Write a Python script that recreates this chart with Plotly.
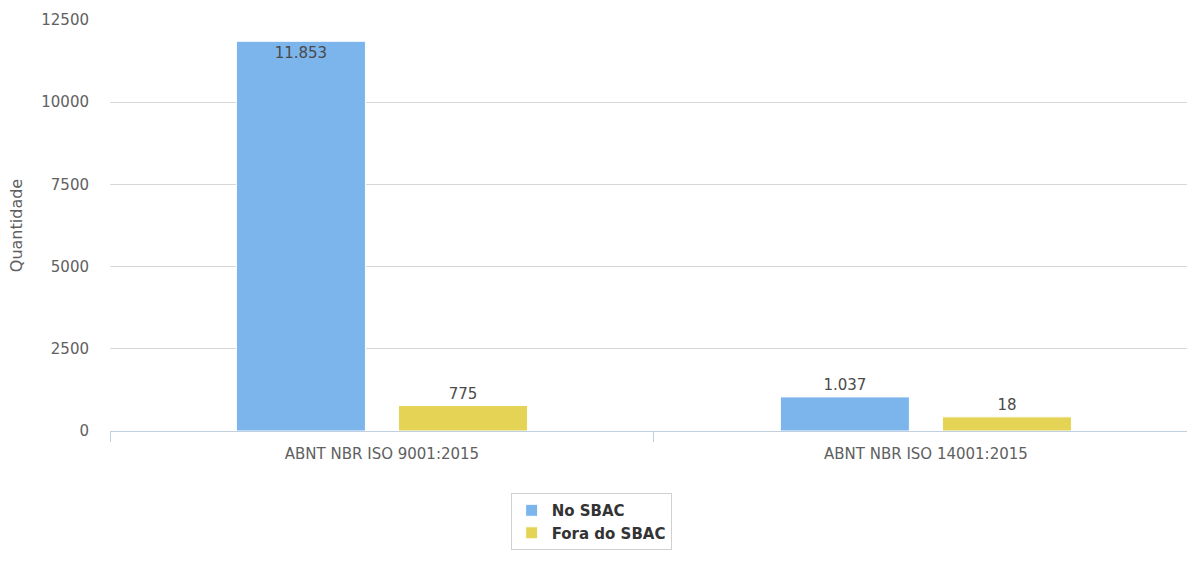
import plotly.graph_objects as go

categories = ["ABNT NBR ISO 9001:2015", "ABNT NBR ISO 14001:2015"]
series_names = ["No SBAC", "Fora do SBAC"]
no_sbac = [11853, 1037]
fora_sbac = [775, 18]
y_ticks = [0, 2500, 5000, 7500, 10000, 12500]

colors = ["#7CB5EC", "#E4D354"]
MIN_BAR = 430  # minimum visible bar length (like Highcharts minPointLength)
FONT = "DejaVu Sans"


def fmt(v):
    return f"{v:,}".replace(",", ".")


fig = go.Figure()
for name, vals, col in zip(series_names, [no_sbac, fora_sbac], colors):
    shown = [max(v, MIN_BAR) for v in vals]
    positions = ["inside" if v > 11000 else "outside" for v in vals]
    fig.add_trace(go.Bar(
        name=name,
        x=categories,
        y=shown,
        text=[fmt(v) for v in vals],
        textposition=positions,
        insidetextanchor="end",
        textfont=dict(family=FONT, size=15, color="#4a4a4a"),
        insidetextfont=dict(family=FONT, size=15, color="#4a4a4a"),
        outsidetextfont=dict(family=FONT, size=15, color="#4a4a4a"),
        marker=dict(color=col, line=dict(color="#FFFFFF", width=1)),
        cliponaxis=False,
        hoverinfo="skip",
    ))

fig.update_layout(
    width=1187,
    height=563,
    margin=dict(l=110, r=0, t=20, b=132),
    paper_bgcolor="#FFFFFF",
    plot_bgcolor="#FFFFFF",
    barmode="group",
    bargap=0.404,
    bargroupgap=0.204,
    font=dict(family=FONT, size=15, color="#606060"),
    xaxis=dict(
        range=[-0.5, 1.48],
        showgrid=False,
        showline=True,
        linecolor="#C0D0E0",
        linewidth=1,
        ticks="outside",
        ticklen=10,
        tickcolor="#C0D0E0",
        tickson="boundaries",
        ticklabelstandoff=9,
        tickfont=dict(family=FONT, size=15, color="#606060"),
    ),
    yaxis=dict(
        range=[0, 12500],
        tickvals=y_ticks,
        ticktext=[str(t) for t in y_ticks],
        showgrid=True,
        gridcolor="#D8D8D8",
        gridwidth=1,
        zeroline=False,
        showline=False,
        ticks="",
        ticklabelstandoff=20,
        tickfont=dict(family=FONT, size=15, color="#606060"),
        title=dict(text="Quantidade", standoff=14,
                   font=dict(family=FONT, size=16, color="#606060")),
    ),
    legend=dict(
        orientation="v",
        x=0.372,
        xanchor="left",
        y=-0.151,
        yanchor="top",
        bordercolor="#D0D0D0",
        borderwidth=1,
        bgcolor="#FFFFFF",
        font=dict(family=FONT, size=15, color="#333333", weight="bold"),
        traceorder="normal",
    ),
)

fig.write_html(
    "out.html",
    config={"displayModeBar": False},
    post_script="document.body.style.margin='0';document.body.style.overflow='hidden';",
)
